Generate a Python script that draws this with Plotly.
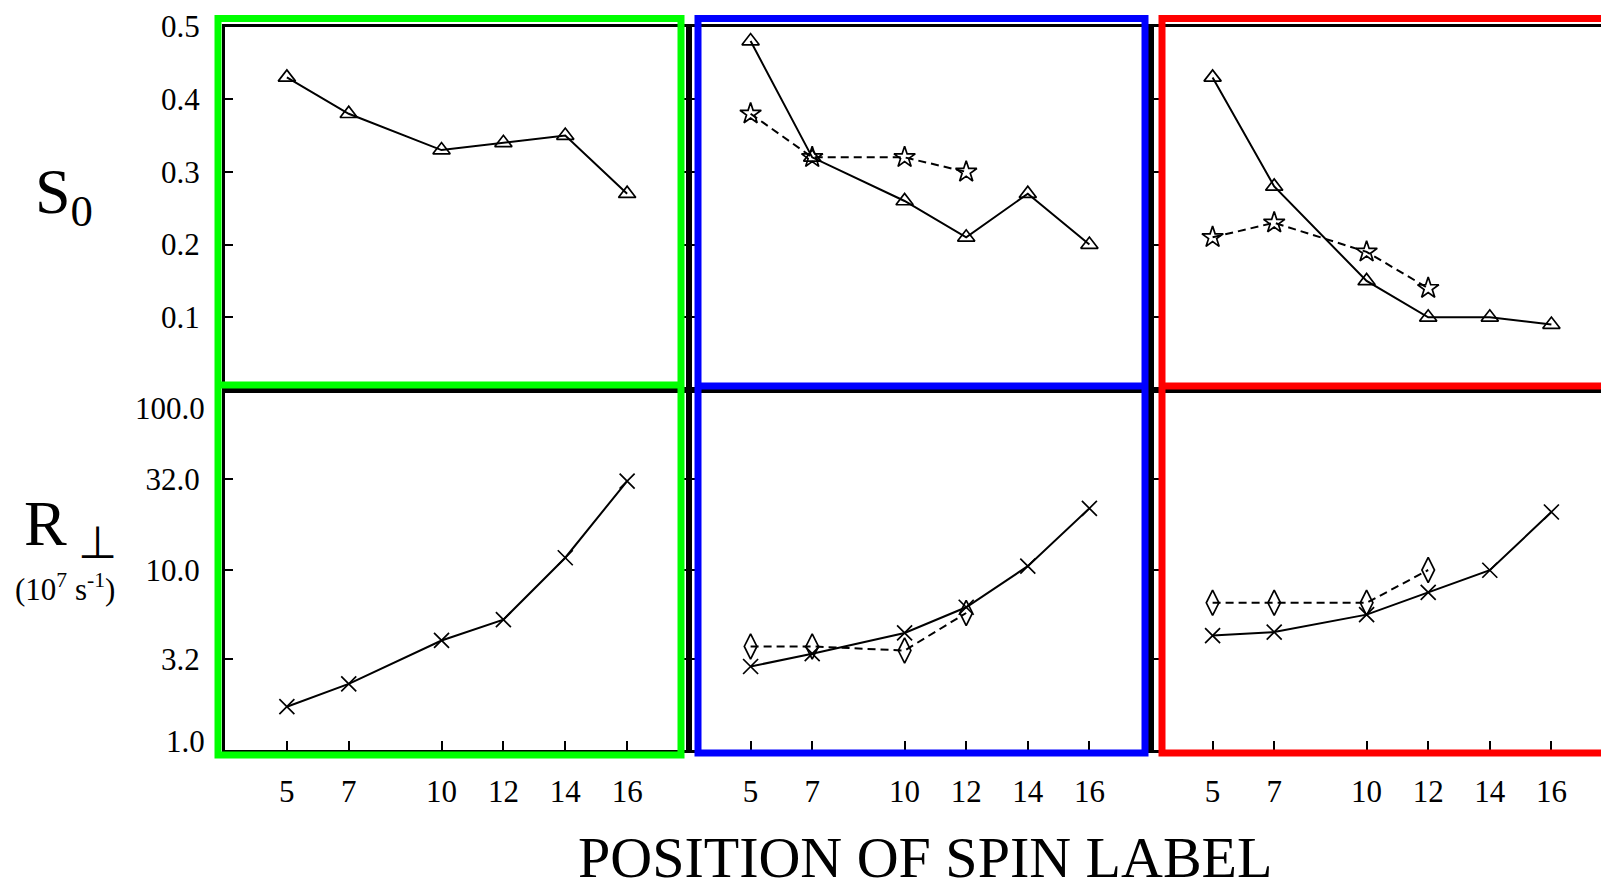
import plotly.graph_objects as go

# ---- data -------------------------------------------------------------
positions = [5, 7, 10, 12, 14, 16]
positions_short = [5, 7, 10, 12]

# order parameter S0
s0_triangle_left = [0.43, 0.38, 0.33, 0.34, 0.35, 0.27]
s0_triangle_mid = [0.48, 0.32, 0.26, 0.21, 0.27, 0.20]
s0_star_mid = [0.38, 0.32, 0.32, 0.30]
s0_triangle_right = [0.43, 0.28, 0.15, 0.10, 0.10, 0.09]
s0_star_right = [0.21, 0.23, 0.19, 0.14]

# perpendicular rotational rate R (10^7 s^-1)
r_cross_left = [1.74, 2.33, 4.06, 5.30, 11.7, 31.2]
r_cross_mid = [2.91, 3.43, 4.47, 6.21, 10.5, 22.0]
r_diamond_mid = [3.76, 3.76, 3.57, 5.77]
r_cross_right = [4.32, 4.52, 5.65, 7.52, 9.97, 21.0]
r_diamond_right = [6.57, 6.57, 6.57, 10.0]

x_tick_vals = [5, 7, 10, 12, 14, 16]
x_tick_text = ["5", "7", "10", "12", "14", "16"]
s0_tick_vals = [0.1, 0.2, 0.3, 0.4, 0.5]
s0_tick_text = ["0.1", "0.2", "0.3", "0.4", "0.5"]
r_tick_vals = [3.2, 10, 32]
r_tick_text = ["3.2", "10.0", "32.0"]

# ---- layout geometry (pixels) -----------------------------------------
W, H = 1601, 882
SERIF = "Liberation Serif, Times New Roman, serif"


def px(x):
    return x / W


def py(y):
    return 1 - y / H


col_px = [(225, 689), (689, 1151), (1151, 1601)]
x_ranges = [[3, 18], [3, 18], [3, 3 + (1601 - 1151) / 30.8]]
row_px = [(26.5, 390), (390, 750)]  # top (S0), bottom (R)

fig = go.Figure()


def add_series(x, y, symbol, size, dash, axis_idx):
    fig.add_trace(go.Scatter(
        x=x, y=y, mode="lines+markers",
        xaxis="x" + ("" if axis_idx == 1 else str(axis_idx)),
        yaxis="y" + ("" if axis_idx == 1 else str(axis_idx)),
        line=dict(color="black", width=2, dash=dash),
        marker=dict(symbol=symbol, size=size, color="black",
                    line=dict(color="black", width=1.7)),
        showlegend=False, hoverinfo="x+y",
    ))


# top row: S0
add_series(positions, s0_triangle_left, "triangle-up-open", 15, "solid", 1)
add_series(positions, s0_triangle_mid, "triangle-up-open", 15, "solid", 2)
add_series(positions_short, s0_star_mid, "star-open", 16, "8px,5px", 2)
add_series(positions, s0_triangle_right, "triangle-up-open", 15, "solid", 3)
add_series(positions_short, s0_star_right, "star-open", 16, "8px,5px", 3)

# bottom row: R
add_series(positions, r_cross_left, "x-thin-open", 15, "solid", 4)
add_series(positions, r_cross_mid, "x-thin-open", 15, "solid", 5)
add_series(positions_short, r_diamond_mid, "diamond-tall-open", 18, "8px,5px", 5)
add_series(positions, r_cross_right, "x-thin-open", 15, "solid", 6)
add_series(positions_short, r_diamond_right, "diamond-tall-open", 18, "8px,5px", 6)

layout = dict(
    template="none",
    width=W, height=H,
    margin=dict(l=0, r=0, t=0, b=0, pad=0, autoexpand=False),
    paper_bgcolor="white", plot_bgcolor="white",
    showlegend=False,
)

tick_font = dict(family=SERIF, size=31, color="black")

for row in range(2):
    for col in range(3):
        idx = row * 3 + col + 1
        key_x = "xaxis" + ("" if idx == 1 else str(idx))
        key_y = "yaxis" + ("" if idx == 1 else str(idx))
        anchor_y = "y" + ("" if idx == 1 else str(idx))
        anchor_x = "x" + ("" if idx == 1 else str(idx))
        bottom = row == 1
        layout[key_x] = dict(
            domain=[px(col_px[col][0]), px(col_px[col][1])],
            range=x_ranges[col], anchor=anchor_y,
            showline=True, linecolor="black", linewidth=3,
            mirror=True, showgrid=False, zeroline=False,
            tickvals=x_tick_vals if bottom else [],
            ticktext=x_tick_text if bottom else [],
            ticks="inside" if bottom else "",
            ticklen=9, tickwidth=1.5, tickcolor="black",
            showticklabels=bottom, tickfont=tick_font,
            ticklabelstandoff=12,
            automargin=False, fixedrange=True,
        )
        ydom = [py(row_px[row][1]), py(row_px[row][0])]
        ycfg = dict(
            domain=ydom, anchor=anchor_x,
            showline=True, linecolor="black", linewidth=3,
            mirror="ticks" if col < 2 else False,
            showgrid=False, zeroline=False,
            ticks="inside", ticklen=8, tickwidth=1.5, tickcolor="black",
            showticklabels=(col == 0), tickfont=tick_font,
            ticklabelstandoff=16,
            automargin=False, fixedrange=True,
        )
        if row == 0:
            ycfg.update(range=[0, 0.5], tickvals=s0_tick_vals, ticktext=s0_tick_text)
        else:
            ycfg.update(type="log", range=[0, 2], tickvals=r_tick_vals, ticktext=r_tick_text)
        layout[key_y] = ycfg

fig.update_layout(**layout)

# end labels of the log axis sit just inside the frame
fig.add_annotation(text="100.0", xref="paper", yref="y4", x=px(207), y=1.895,
                   xanchor="right", yanchor="middle", showarrow=False, font=tick_font)
fig.add_annotation(text="1.0", xref="paper", yref="y4", x=px(207), y=0.05,
                   xanchor="right", yanchor="middle", showarrow=False, font=tick_font)

# axis titles
fig.add_annotation(text="S<sub>0</sub>", xref="paper", yref="paper",
                   x=px(64), y=py(196), xanchor="center", yanchor="middle",
                   showarrow=False, font=dict(family=SERIF, size=64, color="black"))
fig.add_annotation(text="R<sub> ⊥</sub>", xref="paper", yref="paper",
                   x=px(70), y=py(528), xanchor="center", yanchor="middle",
                   showarrow=False, font=dict(family=SERIF, size=64, color="black"))
fig.add_annotation(text="(10<sup>7</sup> s<sup>-1</sup>)", xref="paper", yref="paper",
                   x=px(65), y=py(587), xanchor="center", yanchor="middle",
                   showarrow=False, font=dict(family=SERIF, size=31, color="black"))
fig.add_annotation(text="POSITION OF SPIN LABEL", xref="paper", yref="paper",
                   x=px(925), y=py(857), xanchor="center", yanchor="middle",
                   showarrow=False, font=dict(family=SERIF, size=58, color="black"))

# coloured outlines grouping the three membrane systems
boxes = [
    ("#00ff00", 218, 681, 18.5, 385, 755),
    ("#0000ff", 698, 1145, 18.5, 386, 753),
    ("#ff0000", 1162, 1620, 18.5, 386, 753),
]
for color, x0, x1, y0, ymid, y1 in boxes:
    fig.add_shape(type="rect", xref="paper", yref="paper",
                  x0=px(x0), x1=px(x1), y0=py(y1), y1=py(y0),
                  line=dict(color=color, width=7), layer="above")
    fig.add_shape(type="line", xref="paper", yref="paper",
                  x0=px(x0), x1=px(x1), y0=py(ymid), y1=py(ymid),
                  line=dict(color=color, width=7), layer="above")

fig.write_html("out.html")
